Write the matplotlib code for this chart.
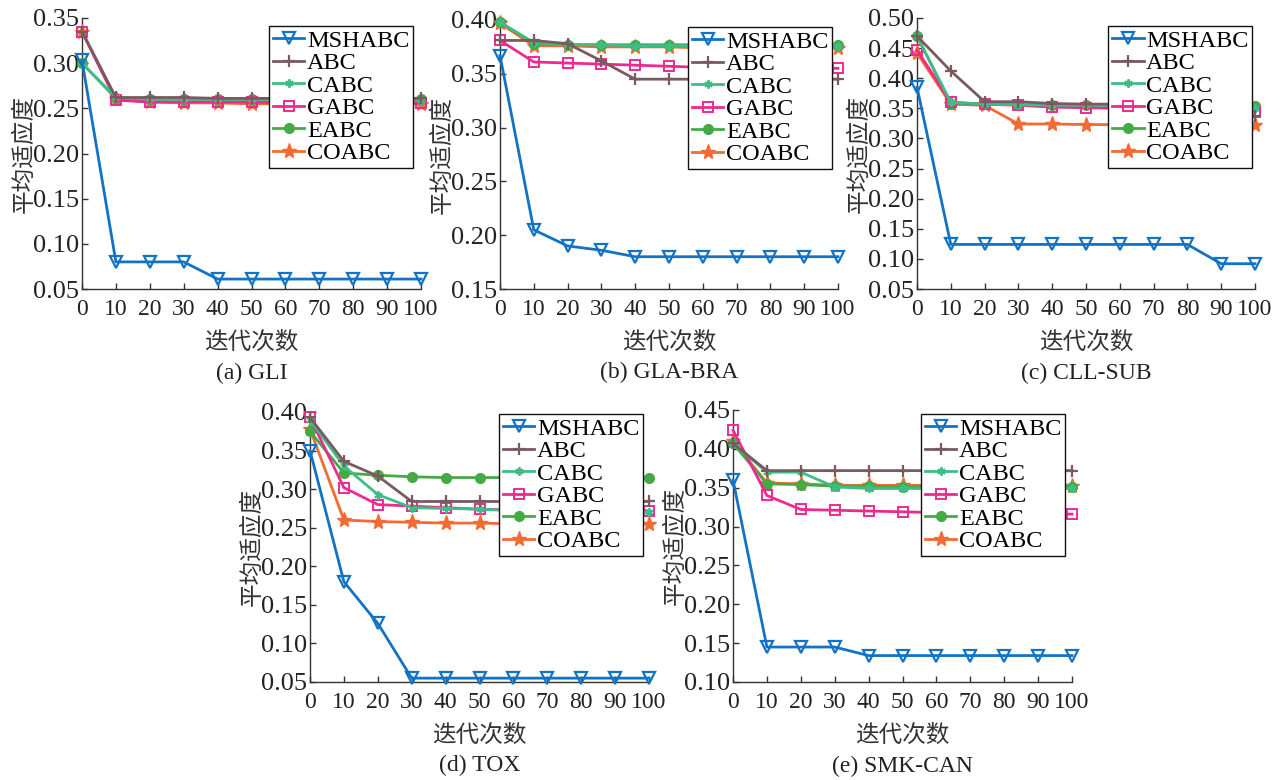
import matplotlib
matplotlib.use("Agg")
import matplotlib.pyplot as plt

iters = [0, 10, 20, 30, 40, 50, 60, 70, 80, 90, 100]
series_names = ["MSHABC", "ABC", "CABC", "GABC", "EABC", "COABC"]

# (a) GLI
gli_mshabc = [0.303, 0.080, 0.080, 0.080, 0.061, 0.061, 0.061, 0.061, 0.061, 0.061, 0.061]
gli_abc    = [0.335, 0.262, 0.262, 0.262, 0.261, 0.261, 0.261, 0.261, 0.261, 0.261, 0.261]
gli_cabc   = [0.300, 0.262, 0.260, 0.260, 0.260, 0.260, 0.260, 0.260, 0.260, 0.260, 0.259]
gli_gabc   = [0.335, 0.259, 0.257, 0.257, 0.257, 0.257, 0.256, 0.256, 0.256, 0.256, 0.256]
gli_eabc   = [0.300, 0.261, 0.260, 0.260, 0.260, 0.260, 0.260, 0.260, 0.260, 0.260, 0.260]
gli_coabc  = [0.335, 0.260, 0.257, 0.256, 0.256, 0.255, 0.255, 0.255, 0.255, 0.255, 0.255]

# (b) GLA-BRA
gla_mshabc = [0.367, 0.205, 0.190, 0.186, 0.180, 0.180, 0.180, 0.180, 0.180, 0.180, 0.180]
gla_abc    = [0.381, 0.381, 0.378, 0.362, 0.345, 0.345, 0.345, 0.345, 0.345, 0.345, 0.345]
gla_cabc   = [0.398, 0.379, 0.377, 0.377, 0.376, 0.376, 0.376, 0.376, 0.376, 0.376, 0.376]
gla_gabc   = [0.381, 0.361, 0.360, 0.359, 0.358, 0.357, 0.356, 0.356, 0.356, 0.356, 0.355]
gla_eabc   = [0.398, 0.378, 0.377, 0.377, 0.377, 0.377, 0.377, 0.377, 0.377, 0.377, 0.377]
gla_coabc  = [0.397, 0.376, 0.376, 0.375, 0.375, 0.375, 0.374, 0.374, 0.374, 0.374, 0.374]

# (c) CLL-SUB
cll_mshabc = [0.385, 0.124, 0.124, 0.124, 0.124, 0.124, 0.124, 0.124, 0.124, 0.092, 0.092]
cll_abc    = [0.470, 0.412, 0.361, 0.361, 0.358, 0.357, 0.357, 0.357, 0.357, 0.357, 0.337]
cll_cabc   = [0.470, 0.360, 0.357, 0.356, 0.355, 0.355, 0.355, 0.355, 0.355, 0.355, 0.350]
cll_gabc   = [0.447, 0.360, 0.357, 0.355, 0.352, 0.351, 0.350, 0.349, 0.348, 0.347, 0.344]
cll_eabc   = [0.470, 0.358, 0.357, 0.356, 0.355, 0.355, 0.355, 0.355, 0.355, 0.355, 0.354]
cll_coabc  = [0.442, 0.357, 0.355, 0.324, 0.324, 0.323, 0.323, 0.323, 0.323, 0.323, 0.322]

# (d) TOX
tox_mshabc = [0.350, 0.180, 0.126, 0.055, 0.055, 0.055, 0.055, 0.055, 0.055, 0.055, 0.055]
tox_abc    = [0.393, 0.336, 0.317, 0.284, 0.284, 0.284, 0.284, 0.284, 0.284, 0.284, 0.284]
tox_cabc   = [0.390, 0.330, 0.293, 0.276, 0.275, 0.274, 0.272, 0.271, 0.271, 0.270, 0.270]
tox_gabc   = [0.393, 0.302, 0.280, 0.278, 0.276, 0.274, 0.273, 0.273, 0.272, 0.272, 0.272]
tox_eabc   = [0.375, 0.321, 0.318, 0.316, 0.315, 0.315, 0.315, 0.315, 0.315, 0.315, 0.315]
tox_coabc  = [0.378, 0.260, 0.258, 0.257, 0.256, 0.256, 0.255, 0.255, 0.255, 0.255, 0.255]

# (e) SMK-CAN
smk_mshabc = [0.360, 0.145, 0.145, 0.145, 0.134, 0.134, 0.134, 0.134, 0.134, 0.134, 0.134]
smk_abc    = [0.407, 0.372, 0.372, 0.372, 0.372, 0.372, 0.372, 0.372, 0.372, 0.372, 0.372]
smk_cabc   = [0.407, 0.370, 0.370, 0.351, 0.349, 0.349, 0.349, 0.349, 0.349, 0.349, 0.349]
smk_gabc   = [0.424, 0.340, 0.322, 0.321, 0.320, 0.319, 0.318, 0.318, 0.317, 0.317, 0.316]
smk_eabc   = [0.407, 0.355, 0.354, 0.352, 0.352, 0.351, 0.351, 0.351, 0.351, 0.351, 0.351]
smk_coabc  = [0.410, 0.356, 0.355, 0.353, 0.353, 0.353, 0.353, 0.353, 0.352, 0.352, 0.352]

captions = ["(a) GLI", "(b) GLA-BRA", "(c) CLL-SUB", "(d) TOX", "(e) SMK-CAN"]
yticks_list = [
    [0.05, 0.10, 0.15, 0.20, 0.25, 0.30, 0.35],
    [0.15, 0.20, 0.25, 0.30, 0.35, 0.40],
    [0.05, 0.10, 0.15, 0.20, 0.25, 0.30, 0.35, 0.40, 0.45, 0.50],
    [0.05, 0.10, 0.15, 0.20, 0.25, 0.30, 0.35, 0.40],
    [0.10, 0.15, 0.20, 0.25, 0.30, 0.35, 0.40, 0.45],
]
xticks = [0, 10, 20, 30, 40, 50, 60, 70, 80, 90, 100]
xlabel = "迭代次数"
ylabel = "平均适应度"

datasets = [
    [gli_mshabc, gli_abc, gli_cabc, gli_gabc, gli_eabc, gli_coabc],
    [gla_mshabc, gla_abc, gla_cabc, gla_gabc, gla_eabc, gla_coabc],
    [cll_mshabc, cll_abc, cll_cabc, cll_gabc, cll_eabc, cll_coabc],
    [tox_mshabc, tox_abc, tox_cabc, tox_gabc, tox_eabc, tox_coabc],
    [smk_mshabc, smk_abc, smk_cabc, smk_gabc, smk_eabc, smk_coabc],
]

colors = ["#1273C4", "#7A5A5E", "#3DBE86", "#EE2A90", "#45AA45", "#F36A32"]
styles = [
    dict(marker="v", markersize=9, markerfacecolor="none", markeredgewidth=1.6),
    dict(marker="+", markersize=8, markeredgewidth=1.6),
    dict(marker=(6, 2, 0), markersize=6, markeredgewidth=1.4),
    dict(marker="s", markersize=6.5, markerfacecolor="none", markeredgewidth=1.4),
    dict(marker="o", markersize=7, markeredgewidth=1.0),
    dict(marker="*", markersize=11, markeredgewidth=1.0),
]

W, H = 1284, 780
fig = plt.figure(figsize=(W / 100, H / 100), dpi=100)

# axes boxes in pixels: left, right, top, bottom
boxes = [
    (82, 421, 18, 289),
    (500, 838, 20, 289),
    (917, 1255, 18, 289),
    (310, 649, 412, 682),
    (733, 1072, 410, 682),
]
leg_anchor = [(0.976, 0.970), (0.982, 0.974), (0.991, 0.970), (0.982, 0.993), (0.979, 0.985)]

serif = ["Liberation Serif", "DejaVu Serif"]
cjk = ["Noto Sans CJK SC", "DejaVu Sans"]
textc = "#222222"

for i, (data, box) in enumerate(zip(datasets, boxes)):
    l, r, t, b = box
    ax = fig.add_axes([l / W, 1 - b / H, (r - l) / W, (b - t) / H])
    for j, vals in enumerate(data):
        ax.plot(iters, vals, color=colors[j], linewidth=2.0, label=series_names[j],
                clip_on=False, zorder=3 + (5 - j) * 0.1 if j else 4, **styles[j])
    yt = yticks_list[i]
    ax.set_xlim(0, 100)
    ax.set_ylim(yt[0], yt[-1])
    ax.set_xticks(xticks)
    ax.set_yticks(yt)
    ax.set_yticklabels([f"{v:.2f}" for v in yt], fontfamily=serif, fontsize=19, color=textc)
    ax.set_xticklabels([str(v) for v in xticks], fontfamily=serif, fontsize=17, color=textc)
    ax.tick_params(direction="in", length=4, width=1, colors="#333333")
    ax.tick_params(axis="x", pad=7)
    ax.tick_params(axis="y", pad=2)
    for lab in ax.get_xticklabels() + ax.get_yticklabels():
        lab.set_color(textc)
    for s in ["top", "right"]:
        ax.spines[s].set_visible(False)
    for s in ["left", "bottom"]:
        ax.spines[s].set_color("#333333")
        ax.spines[s].set_linewidth(1.0)
    ax.set_xlabel(xlabel, fontfamily=cjk, fontsize=17, color="#333333", labelpad=8)
    ax.set_ylabel(ylabel, fontfamily=cjk, fontsize=17, color="#333333", labelpad=-2)
    ax.text(0.5, -0.31, captions[i], transform=ax.transAxes, ha="center", va="center",
            fontfamily=serif, fontsize=17, color=textc)
    leg = ax.legend(loc="upper right", bbox_to_anchor=leg_anchor[i], borderaxespad=0,
                    prop={"family": serif, "size": 17.5}, frameon=True, fancybox=False,
                    framealpha=1, edgecolor="#111111", handlelength=1.3, handletextpad=0.1,
                    labelspacing=0.02, borderpad=0.15)
    leg.get_frame().set_linewidth(1.0)
    leg.set_zorder(10)

fig.savefig("out.png", dpi=100)
